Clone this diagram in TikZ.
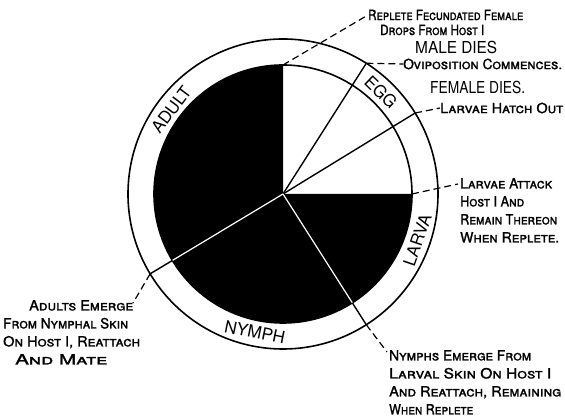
\documentclass[tikz,border=0pt]{standalone}
\usepackage{fontspec}
\setmainfont{TeX Gyre Heros}
\newfontfamily\hand[FakeBold=1.5]{TeX Gyre Heros}
\usetikzlibrary{calc}
% a line of lettering set to a given width
\newcommand\lettered[2]{\resizebox{#1}{\height}{#2}}
\tikzset{
  rim/.style   ={draw=black,line width=1.6pt},
  spoke/.style ={line width=1.4pt},
  wspoke/.style={white,line width=1.2pt},
  lead/.style  ={line width=1.2pt,dash pattern=on 7pt off 4pt},
  note/.style  ={font=\fontsize{14}{18}\selectfont\hand\scshape,align=left,inner sep=0pt},
  big/.style   ={font=\fontsize{16.5}{18}\selectfont,inner sep=0pt,anchor=west},
  stage/.style ={font=\fontsize{17}{18}\selectfont,inner sep=0pt},
}
\begin{document}
\begin{tikzpicture}[x=1pt,y=1pt]
\useasboundingbox (0,0) rectangle (565,419);
\coordinate (O) at (283,225);

% the disc: black except the egg quadrant
\fill (O) -- ++(90:129) arc[start angle=90,end angle=360,radius=129] -- cycle;
\draw[rim] (O) circle[radius=129];
\draw[rim] (O) circle[radius=155];

% points on the circles
\coordinate (north) at ($(O)+(90:129)$);
\coordinate (east)  at ($(O)+(0:129)$);
\coordinate (ovi)   at ($(O)+(57.5:155)$);
\coordinate (hatch) at ($(O)+(31.5:155)$);
\coordinate (nymIn)  at ($(O)+(-57.5:129)$);
\coordinate (nymOut) at ($(O)+(-57.5:155)$);
\coordinate (adIn)   at ($(O)+(211:129)$);
\coordinate (adOut)  at ($(O)+(211:155)$);

% spokes
\draw[spoke] (O) -- (ovi);
\draw[spoke] (O) -- (hatch);
\draw[wspoke] (O) -- (nymIn);
\draw[wspoke] (O) -- (adIn);
\draw[spoke] (nymIn) -- (nymOut);
\draw[spoke] (adIn) -- (adOut);

% stages in the ring
\node[stage,rotate=53]    (adult) at ($(O)+(143:140)$) {ADULT};
\node[stage,rotate=-44]   (egg)   at ($(O)+(46:141)$) {EGG};
\node[stage,rotate=71]    (larva) at ($(O)+(-19:142)$) {LARVA};
\node[stage,rotate=-11.5] (nymph) at ($(O)+(-101.5:141)$) {NYMPH};

% notes
\node[note,anchor=west] (replete) at (368,404) {\lettered{155pt}{Replete Fecundated Female}};
\node[note,anchor=west] (drops)   at (380,389) {\lettered{104pt}{Drops From Host I}};
\node[big] (maledies)   at (415,372) {\lettered{82pt}{MALE DIES}};
\node[note,anchor=west] (oviposit) at (403,355) {\lettered{159pt}{Oviposition Commences.}};
\node[big] (femaledies) at (430,332) {\lettered{95pt}{FEMALE DIES.}};
\node[note,anchor=west] (hatchout) at (440,311) {\lettered{123pt}{Larvae Hatch Out}};
\node[note,anchor=north west] (attack) at (460,241)
  {\lettered{92pt}{Larvae Attack}\\\lettered{64pt}{Host I And}\\
   \lettered{97pt}{Remain Thereon}\\\lettered{99pt}{When Replete.}};
\node[note,anchor=north west] (emerge) at (389,69)
  {\lettered{142pt}{Nymphs Emerge From}\\\lettered{162pt}{Larval Skin On Host I}\\
   \lettered{172pt}{And Reattach, Remaining}\\\lettered{84pt}{When Replete}};
\node[note,anchor=north west] (adults) at (3,119)
  {\hspace*{26pt}\lettered{104pt}{Adults Emerge}\\\lettered{125pt}{From Nymphal Skin}\\
   \lettered{137pt}{On Host I, Reattach}\\\hspace*{12pt}\lettered{92pt}{And Mate}};

% leaders
\draw[lead] (north) -- (replete.west);
\draw[lead] (ovi) -- (oviposit.west);
\draw[lead] (hatch) -- (hatchout.west);
\draw[lead] (east) -- ($(attack.north west)+(-2,-6)$);
\draw[lead] (nymOut) -- ($(emerge.north west)+(-2,-2)$);
\draw[lead] (adOut) -- ($(adults.north west)+(130,-3)$);
\end{tikzpicture}
\end{document}
